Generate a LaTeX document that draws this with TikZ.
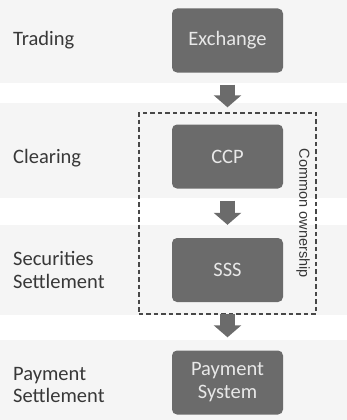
\documentclass[tikz,border=0pt]{standalone}
\usepackage{fontspec}
\setmainfont{Carlito}
\newfontfamily\arialfont{Liberation Sans}
\usetikzlibrary{arrows.meta,fit}

\definecolor{boxgray}{HTML}{6B6B6B}
\definecolor{labelgray}{HTML}{383838}
\definecolor{bandgray}{HTML}{F5F5F5}
\definecolor{dashgray}{HTML}{484848}

\begin{document}
\begin{tikzpicture}
[x=1pt,y=-1pt,
 stagebox/.style={rectangle,rounded corners=5pt,fill=boxgray,text=white!91!black,
   minimum width=111pt,minimum height=64pt,align=center,inner sep=0pt,
   font=\fontsize{20.5}{23}\selectfont},
 rowlabel/.style={anchor=west,align=left,inner sep=0pt,text=labelgray,
   font=\fontsize{20.5}{22.5}\selectfont},
 blockarrow/.style={draw=boxgray,line width=15pt,-{Triangle[width=27pt,length=12pt]},
   shorten <=12pt},
 ownbox/.style={draw=dashgray,line width=1.8pt,dash pattern=on 4.5pt off 3pt,
   inner xsep=33pt,inner ysep=11.5pt}]
\useasboundingbox (0,0) rectangle (347,420);
%% row bands
\foreach \ytop/\ybot in {0/83, 103/198, 225/315, 340/420} {
  \fill[bandgray] (0,\ytop) rectangle (347,\ybot);
}
%% the stages
\node[stagebox] (exch) at (227.5,40.5) {Exchange};
\node[stagebox] (ccp) at (227.5,156.5) {CCP};
\node[stagebox] (sss) at (227.5,270) {SSS};
\node[stagebox] (pay) at (227.5,382.5) {Payment\\System};
%% the row names
\node[rowlabel] (trading) at (13,40.5) {Trading};
\node[rowlabel] (clearing) at (13,158) {Clearing};
\node[rowlabel] (secsettle) at (13,270) {Securities\\Settlement};
\node[rowlabel] (paysettle) at (13,385) {Payment\\Settlement};
%% common ownership
\node[ownbox,fit=(ccp)(sss)] (own) {};
\node[rotate=-90,inner sep=0pt,text=labelgray,font=\arialfont\fontsize{14.5}{17}\selectfont]
  (ownlabel) at ([xshift=-14pt]own.east) {Common ownership};
%% the arrows
\foreach \from/\to/\gap in {exch/ccp/17, ccp/sss/13, sss/pay/13} {
  \draw[blockarrow,shorten >=\gap pt] (\from.south) -- (\to.north);
}
\end{tikzpicture}
\end{document}
